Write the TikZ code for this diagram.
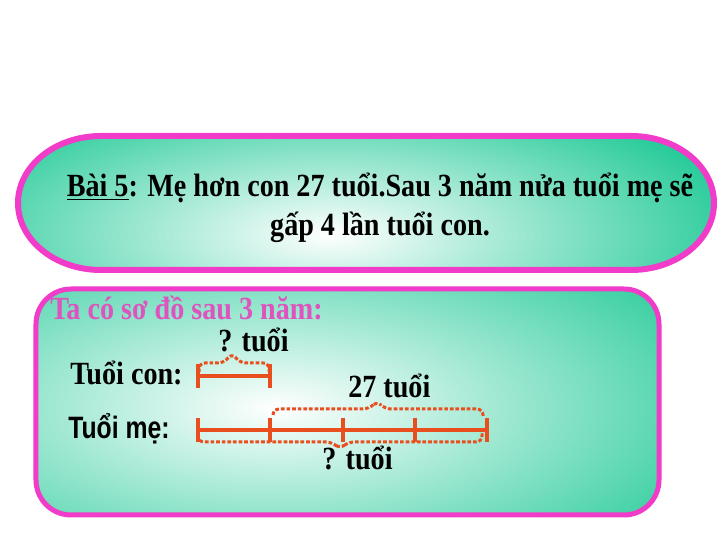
\documentclass[tikz,border=0pt]{standalone}
\usepackage{fontspec}
\setmainfont{Liberation Serif}
\newfontfamily\slidefont[FakeStretch=0.87]{Liberation Serif}
\newfontfamily\slidesans[FakeStretch=0.8]{Liberation Sans}
\usepackage{xcolor}
\usetikzlibrary{calc}
\definecolor{slideteal}{RGB}{28,200,148}
\definecolor{slidepink}{RGB}{240,60,200}
\definecolor{textpink}{RGB}{222,84,190}
\definecolor{segred}{RGB}{232,78,30}
\tikzset{
  seg/.style={line width=0.1cm, segred},
  brace/.style={line width=0.075cm, segred, dash pattern=on 2.6pt off 1.4pt, rounded corners=0.15cm},
  frame/.style={line width=0.15cm, slidepink},
  lbl/.style={inner sep=0pt, anchor=base west, font=\slidefont\bfseries\fontsize{23}{28}\selectfont}
}

\begin{document}
\begin{tikzpicture}
            \useasboundingbox (0,0) rectangle (18.000000,13.500000);
            {\footnotesize

            % Drawing pill of the problem
            \begin{scope}
            \clip (2.525,10.100) -- (15.775,10.100) arc[start angle=90,end angle=-90,x radius=2.075,y radius=1.675] -- (2.525,6.750) arc[start angle=270,end angle=90,x radius=2.075,y radius=1.675] -- cycle;
            \fill [slideteal] (0,6) rectangle (18,10.5);%
            \shade [inner color=white, outer color=slideteal] (8.250,7.625) ellipse (11.000 and 4.000);%
            \end{scope}
            \draw [frame] (2.525,10.100) -- (15.775,10.100) arc[start angle=90,end angle=-90,x radius=2.075,y radius=1.675] -- (2.525,6.750) arc[start angle=270,end angle=90,x radius=2.075,y radius=1.675] -- cycle;%

            % Drawing box of the scheme
            \begin{scope}
            \clip [rounded corners=0.875cm] (0.900,0.625) rectangle (16.475,6.275);
            \fill [slideteal] (0.5,0.5) rectangle (17,6.5);%
            \shade [inner color=white, outer color=slideteal] (6.900,3.300) ellipse (13.500 and 5.500);%
            \end{scope}
            \draw [frame, line width=0.125cm, rounded corners=0.875cm] (0.900,0.625) rectangle (16.475,6.275);%

            % Writing the problem
            \node (title) [lbl, anchor=base, align=center] at (9.500,7.600)
              {\underline{Bài 5}: Mẹ hơn con 27 tuổi.Sau 3 năm nửa tuổi mẹ sẽ\\gấp 4 lần tuổi con.};%

            % Writing the labels
            \node (scheme) [lbl, textpink] at (1.250,5.500) {Ta có sơ đồ sau 3 năm:};%
            \node (sonlbl) [lbl] at (1.750,3.875) {Tuổi con:};%
            \node (momlbl) [lbl, font=\slidesans\bfseries\fontsize{22}{25}\selectfont] at (1.700,2.550) {Tuổi mẹ:};%
            \node (sonq) [lbl] at (5.450,4.700) {? tuổi};%
            \node (diff) [lbl] at (8.700,3.550) {27 tuổi};%
            \node (momq) [lbl] at (8.050,1.750) {? tuổi};%

            % Points of the two segments
            \coordinate (c0) at (4.950,4.100);
            \coordinate (c1) at (6.750,4.100);
            \coordinate (m0) at (4.950,2.750);
            \coordinate (m1) at (6.750,2.750);
            \coordinate (m2) at (8.575,2.750);
            \coordinate (m3) at (10.375,2.750);
            \coordinate (m4) at (12.175,2.750);

            % Drawing segment of the son
            \draw [seg] (c0) -- (c1);%
            \foreach \p in {c0,c1}
              \draw [seg] ($(\p)+(0,0.300)$) -- ($(\p)-(0,0.300)$);%

            % Drawing segment of the mother
            \draw [seg] (m0) -- (m4);%
            \foreach \p in {m0,m1,m2,m3,m4}
              \draw [seg] ($(\p)+(0,0.300)$) -- ($(\p)-(0,0.300)$);%

            % Drawing brace over the son
            \draw [brace] (4.975,4.200) |- (5.600,4.425) -- (5.800,4.675) -- (6.000,4.425) -| (6.725,4.200);%

            % Drawing brace of 27 years
            \draw [brace] (6.825,3.125) |- (9.225,3.275) -- (9.425,3.475) -- (9.625,3.275) -| (12.075,3.075);%

            % Drawing brace under the mother
            \draw [brace] (4.950,2.625) |- (8.300,2.450) -- (8.500,2.275) -- (8.700,2.450) -| (12.050,2.700);%
            }
        \end{tikzpicture}
\end{document}
